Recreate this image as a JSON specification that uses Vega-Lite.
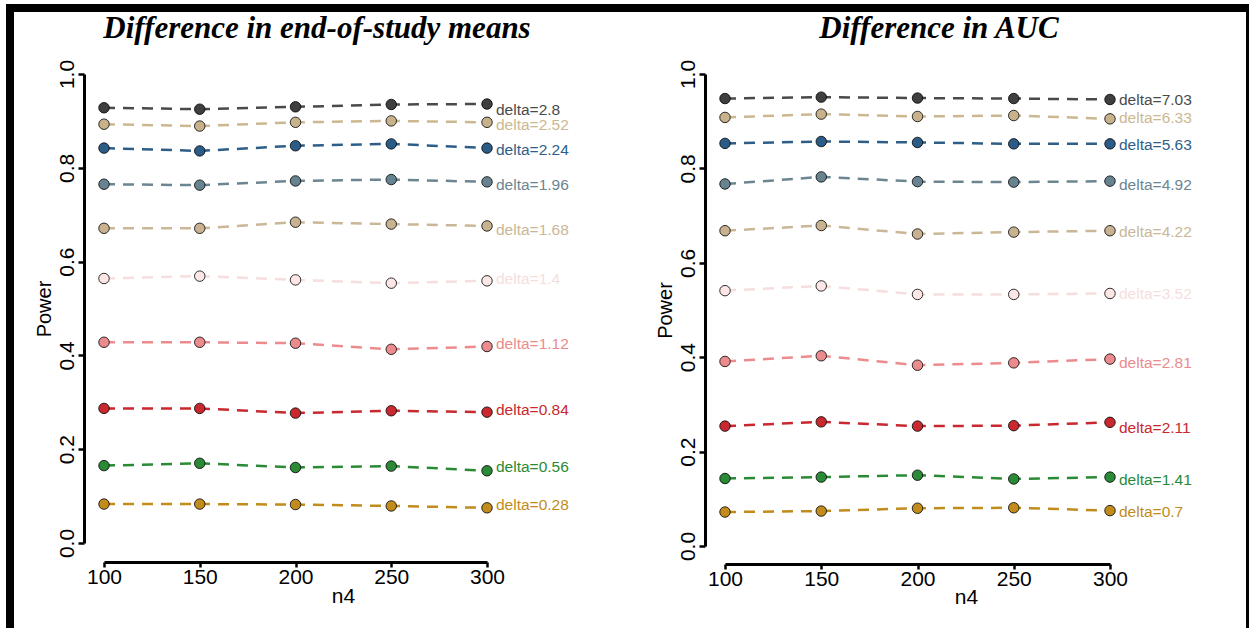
{
  "$schema": "https://vega.github.io/schema/vega-lite/v6.json",
  "background": "white",
  "padding": {"left": 6, "top": 4, "right": 0, "bottom": 0},
  "columns": 7,
  "spacing": 0,
  "bounds": "flush",
  "align": "each",
  "resolve": {"scale": {"color": "independent", "fill": "independent"}},
  "datasets": {
    "means": [
      {"delta": "delta=2.8", "n4": 100, "power": 0.928}, {"delta": "delta=2.8", "n4": 150, "power": 0.925}, {"delta": "delta=2.8", "n4": 200, "power": 0.930}, {"delta": "delta=2.8", "n4": 250, "power": 0.935}, {"delta": "delta=2.8", "n4": 300, "power": 0.936},
      {"delta": "delta=2.52", "n4": 100, "power": 0.893}, {"delta": "delta=2.52", "n4": 150, "power": 0.889}, {"delta": "delta=2.52", "n4": 200, "power": 0.897}, {"delta": "delta=2.52", "n4": 250, "power": 0.900}, {"delta": "delta=2.52", "n4": 300, "power": 0.897},
      {"delta": "delta=2.24", "n4": 100, "power": 0.842}, {"delta": "delta=2.24", "n4": 150, "power": 0.836}, {"delta": "delta=2.24", "n4": 200, "power": 0.847}, {"delta": "delta=2.24", "n4": 250, "power": 0.851}, {"delta": "delta=2.24", "n4": 300, "power": 0.842},
      {"delta": "delta=1.96", "n4": 100, "power": 0.765}, {"delta": "delta=1.96", "n4": 150, "power": 0.763}, {"delta": "delta=1.96", "n4": 200, "power": 0.772}, {"delta": "delta=1.96", "n4": 250, "power": 0.775}, {"delta": "delta=1.96", "n4": 300, "power": 0.770},
      {"delta": "delta=1.68", "n4": 100, "power": 0.671}, {"delta": "delta=1.68", "n4": 150, "power": 0.671}, {"delta": "delta=1.68", "n4": 200, "power": 0.684}, {"delta": "delta=1.68", "n4": 250, "power": 0.680}, {"delta": "delta=1.68", "n4": 300, "power": 0.676},
      {"delta": "delta=1.4", "n4": 100, "power": 0.564}, {"delta": "delta=1.4", "n4": 150, "power": 0.569}, {"delta": "delta=1.4", "n4": 200, "power": 0.561}, {"delta": "delta=1.4", "n4": 250, "power": 0.554}, {"delta": "delta=1.4", "n4": 300, "power": 0.559},
      {"delta": "delta=1.12", "n4": 100, "power": 0.428}, {"delta": "delta=1.12", "n4": 150, "power": 0.428}, {"delta": "delta=1.12", "n4": 200, "power": 0.426}, {"delta": "delta=1.12", "n4": 250, "power": 0.413}, {"delta": "delta=1.12", "n4": 300, "power": 0.419},
      {"delta": "delta=0.84", "n4": 100, "power": 0.287}, {"delta": "delta=0.84", "n4": 150, "power": 0.287}, {"delta": "delta=0.84", "n4": 200, "power": 0.277}, {"delta": "delta=0.84", "n4": 250, "power": 0.282}, {"delta": "delta=0.84", "n4": 300, "power": 0.279},
      {"delta": "delta=0.56", "n4": 100, "power": 0.165}, {"delta": "delta=0.56", "n4": 150, "power": 0.170}, {"delta": "delta=0.56", "n4": 200, "power": 0.161}, {"delta": "delta=0.56", "n4": 250, "power": 0.164}, {"delta": "delta=0.56", "n4": 300, "power": 0.154},
      {"delta": "delta=0.28", "n4": 100, "power": 0.083}, {"delta": "delta=0.28", "n4": 150, "power": 0.083}, {"delta": "delta=0.28", "n4": 200, "power": 0.082}, {"delta": "delta=0.28", "n4": 250, "power": 0.079}, {"delta": "delta=0.28", "n4": 300, "power": 0.075}
    ],
    "meansLabels": [
      {"delta": "delta=2.8", "n4": 300, "ly": 0.923},
      {"delta": "delta=2.52", "n4": 300, "ly": 0.891},
      {"delta": "delta=2.24", "n4": 300, "ly": 0.839},
      {"delta": "delta=1.96", "n4": 300, "ly": 0.763},
      {"delta": "delta=1.68", "n4": 300, "ly": 0.667},
      {"delta": "delta=1.4", "n4": 300, "ly": 0.562},
      {"delta": "delta=1.12", "n4": 300, "ly": 0.424},
      {"delta": "delta=0.84", "n4": 300, "ly": 0.284},
      {"delta": "delta=0.56", "n4": 300, "ly": 0.161},
      {"delta": "delta=0.28", "n4": 300, "ly": 0.080}
    ],
    "auc": [
      {"delta": "delta=7.03", "n4": 100, "power": 0.948}, {"delta": "delta=7.03", "n4": 150, "power": 0.951}, {"delta": "delta=7.03", "n4": 200, "power": 0.949}, {"delta": "delta=7.03", "n4": 250, "power": 0.948}, {"delta": "delta=7.03", "n4": 300, "power": 0.946},
      {"delta": "delta=6.33", "n4": 100, "power": 0.908}, {"delta": "delta=6.33", "n4": 150, "power": 0.915}, {"delta": "delta=6.33", "n4": 200, "power": 0.910}, {"delta": "delta=6.33", "n4": 250, "power": 0.912}, {"delta": "delta=6.33", "n4": 300, "power": 0.905},
      {"delta": "delta=5.63", "n4": 100, "power": 0.853}, {"delta": "delta=5.63", "n4": 150, "power": 0.857}, {"delta": "delta=5.63", "n4": 200, "power": 0.855}, {"delta": "delta=5.63", "n4": 250, "power": 0.852}, {"delta": "delta=5.63", "n4": 300, "power": 0.852},
      {"delta": "delta=4.92", "n4": 100, "power": 0.767}, {"delta": "delta=4.92", "n4": 150, "power": 0.782}, {"delta": "delta=4.92", "n4": 200, "power": 0.772}, {"delta": "delta=4.92", "n4": 250, "power": 0.771}, {"delta": "delta=4.92", "n4": 300, "power": 0.773},
      {"delta": "delta=4.22", "n4": 100, "power": 0.668}, {"delta": "delta=4.22", "n4": 150, "power": 0.679}, {"delta": "delta=4.22", "n4": 200, "power": 0.661}, {"delta": "delta=4.22", "n4": 250, "power": 0.665}, {"delta": "delta=4.22", "n4": 300, "power": 0.668},
      {"delta": "delta=3.52", "n4": 100, "power": 0.541}, {"delta": "delta=3.52", "n4": 150, "power": 0.551}, {"delta": "delta=3.52", "n4": 200, "power": 0.533}, {"delta": "delta=3.52", "n4": 250, "power": 0.533}, {"delta": "delta=3.52", "n4": 300, "power": 0.535},
      {"delta": "delta=2.81", "n4": 100, "power": 0.391}, {"delta": "delta=2.81", "n4": 150, "power": 0.403}, {"delta": "delta=2.81", "n4": 200, "power": 0.383}, {"delta": "delta=2.81", "n4": 250, "power": 0.388}, {"delta": "delta=2.81", "n4": 300, "power": 0.396},
      {"delta": "delta=2.11", "n4": 100, "power": 0.254}, {"delta": "delta=2.11", "n4": 150, "power": 0.263}, {"delta": "delta=2.11", "n4": 200, "power": 0.254}, {"delta": "delta=2.11", "n4": 250, "power": 0.255}, {"delta": "delta=2.11", "n4": 300, "power": 0.262},
      {"delta": "delta=1.41", "n4": 100, "power": 0.143}, {"delta": "delta=1.41", "n4": 150, "power": 0.146}, {"delta": "delta=1.41", "n4": 200, "power": 0.150}, {"delta": "delta=1.41", "n4": 250, "power": 0.142}, {"delta": "delta=1.41", "n4": 300, "power": 0.146},
      {"delta": "delta=0.7", "n4": 100, "power": 0.072}, {"delta": "delta=0.7", "n4": 150, "power": 0.074}, {"delta": "delta=0.7", "n4": 200, "power": 0.080}, {"delta": "delta=0.7", "n4": 250, "power": 0.081}, {"delta": "delta=0.7", "n4": 300, "power": 0.075}
    ],
    "aucLabels": [
      {"delta": "delta=7.03", "n4": 300, "ly": 0.945},
      {"delta": "delta=6.33", "n4": 300, "ly": 0.906},
      {"delta": "delta=5.63", "n4": 300, "ly": 0.850},
      {"delta": "delta=4.92", "n4": 300, "ly": 0.765},
      {"delta": "delta=4.22", "n4": 300, "ly": 0.665},
      {"delta": "delta=3.52", "n4": 300, "ly": 0.534},
      {"delta": "delta=2.81", "n4": 300, "ly": 0.387},
      {"delta": "delta=2.11", "n4": 300, "ly": 0.251},
      {"delta": "delta=1.41", "n4": 300, "ly": 0.140},
      {"delta": "delta=0.7", "n4": 300, "ly": 0.071}
    ]
  },
  "concat": [
    {"width": 8, "height": 8, "data": {"values": []}, "mark": "point", "encoding": {}, "view": {"fill": "black", "stroke": null}},
    {"width": 90, "height": 8, "data": {"values": []}, "mark": "point", "encoding": {}, "view": {"fill": "black", "stroke": null}},
    {"width": 383, "height": 8, "data": {"values": []}, "mark": "point", "encoding": {}, "view": {"fill": "black", "stroke": null}},
    {"width": 238, "height": 8, "data": {"values": []}, "mark": "point", "encoding": {}, "view": {"fill": "black", "stroke": null}},
    {"width": 385, "height": 8, "data": {"values": []}, "mark": "point", "encoding": {}, "view": {"fill": "black", "stroke": null}},
    {"width": 136, "height": 8, "data": {"values": []}, "mark": "point", "encoding": {}, "view": {"fill": "black", "stroke": null}},
    {"width": 10, "height": 8, "data": {"values": []}, "mark": "point", "encoding": {}, "view": {"fill": "black", "stroke": null}},

    {"width": 8, "height": 620, "data": {"values": []}, "mark": "point", "encoding": {}, "view": {"fill": "black", "stroke": null}},
    {"width": 90, "height": 1, "data": {"values": []}, "mark": "point", "encoding": {}},
    {
      "width": 383,
      "height": 531,
      "title": {"text": "Difference in end-of-study means", "font": "Liberation Serif", "fontSize": 31, "fontStyle": "italic", "fontWeight": "bold", "color": "black", "anchor": "middle", "frame": "group", "baseline": "alphabetic", "offset": 0, "dx": 21.5, "dy": 57},
      "data": {"name": "means"},
      "layer": [
        {
          "mark": {"type": "line", "strokeDash": [11, 8], "strokeWidth": 2.5},
          "encoding": {
            "x": {"field": "n4", "type": "quantitative", "scale": {"domain": [100, 300], "nice": false, "zero": false},
              "axis": {"title": "n4", "offset": 19, "values": [100, 150, 200, 250, 300], "labelFontSize": 21, "titleFontSize": 21, "titleX": 239, "titleY": 40, "titleBaseline": "alphabetic", "titleAlign": "center", "domainWidth": 3, "tickWidth": 2.5, "tickSize": 5, "labelPadding": -1, "labelFlush": false, "labelOverlap": false}},
            "y": {"field": "power", "type": "quantitative", "scale": {"domain": [0, 1], "range": [531, 62], "nice": false, "zero": false},
              "axis": {"title": "Power", "offset": 20, "values": [0, 0.2, 0.4, 0.6, 0.8, 1], "format": ".1f", "labelAngle": 270, "labelAlign": "center", "labelBaseline": "alphabetic", "labelFontSize": 21, "labelPadding": 5, "tickSize": 6, "tickWidth": 2.5, "domainWidth": 3, "titleFontSize": 20, "titleX": -34, "titleY": 296.5, "titleAngle": 270, "titleAlign": "center", "titleBaseline": "alphabetic", "labelFlush": false, "labelOverlap": false}},
            "color": {"field": "delta", "type": "nominal", "legend": null,
              "scale": {"domain": ["delta=2.8", "delta=2.52", "delta=2.24", "delta=1.96", "delta=1.68", "delta=1.4", "delta=1.12", "delta=0.84", "delta=0.56", "delta=0.28"],
                "range": ["#4a4a4a", "#cbb890", "#2e5e88", "#6b8591", "#c9b797", "#f6dede", "#ec8b8d", "#c8282e", "#2b8a35", "#c18c1c"]}}
          }
        },
        {
          "mark": {"type": "point", "shape": "circle", "size": 110, "stroke": "black", "strokeWidth": 0.8, "opacity": 1},
          "encoding": {
            "x": {"field": "n4", "type": "quantitative"},
            "y": {"field": "power", "type": "quantitative"},
            "fill": {"field": "delta", "type": "nominal", "legend": null,
              "scale": {"domain": ["delta=2.8", "delta=2.52", "delta=2.24", "delta=1.96", "delta=1.68", "delta=1.4", "delta=1.12", "delta=0.84", "delta=0.56", "delta=0.28"],
                "range": ["#3f3f3f", "#c8b28c", "#2b5c88", "#67838f", "#c8b28f", "#fce6e6", "#ec8b8d", "#c8282e", "#2b8a35", "#c18c1c"]}}
          }
        },
        {
          "data": {"name": "meansLabels"},
          "mark": {"type": "text", "align": "left", "baseline": "middle", "dx": 9, "font": "Liberation Sans", "fontSize": 15.5},
          "encoding": {
            "x": {"field": "n4", "type": "quantitative"},
            "y": {"field": "ly", "type": "quantitative"},
            "text": {"field": "delta"},
            "color": {"field": "delta", "type": "nominal", "legend": null}
          }
        }
      ]
    },
    {"width": 238, "height": 1, "data": {"values": []}, "mark": "point", "encoding": {}},
    {
      "width": 385,
      "height": 534,
      "title": {"text": "Difference in AUC", "font": "Liberation Serif", "fontSize": 31, "fontStyle": "italic", "fontWeight": "bold", "color": "black", "anchor": "middle", "frame": "group", "baseline": "alphabetic", "offset": 0, "dx": 21.5, "dy": 57},
      "data": {"name": "auc"},
      "layer": [
        {
          "mark": {"type": "line", "strokeDash": [11, 8], "strokeWidth": 2.5},
          "encoding": {
            "x": {"field": "n4", "type": "quantitative", "scale": {"domain": [100, 300], "nice": false, "zero": false},
              "axis": {"title": "n4", "offset": 18, "values": [100, 150, 200, 250, 300], "labelFontSize": 21, "titleFontSize": 21, "titleX": 241, "titleY": 39, "titleBaseline": "alphabetic", "titleAlign": "center", "domainWidth": 3, "tickWidth": 2.5, "tickSize": 5, "labelPadding": -1, "labelFlush": false, "labelOverlap": false}},
            "y": {"field": "power", "type": "quantitative", "scale": {"domain": [0, 1], "range": [534, 62], "nice": false, "zero": false},
              "axis": {"title": "Power", "offset": 20, "values": [0, 0.2, 0.4, 0.6, 0.8, 1], "format": ".1f", "labelAngle": 270, "labelAlign": "center", "labelBaseline": "alphabetic", "labelFontSize": 21, "labelPadding": 5, "tickSize": 6, "tickWidth": 2.5, "domainWidth": 3, "titleFontSize": 20, "titleX": -34, "titleY": 298, "titleAngle": 270, "titleAlign": "center", "titleBaseline": "alphabetic", "labelFlush": false, "labelOverlap": false}},
            "color": {"field": "delta", "type": "nominal", "legend": null,
              "scale": {"domain": ["delta=7.03", "delta=6.33", "delta=5.63", "delta=4.92", "delta=4.22", "delta=3.52", "delta=2.81", "delta=2.11", "delta=1.41", "delta=0.7"],
                "range": ["#4a4a4a", "#cbb890", "#2e5e88", "#6b8591", "#c9b797", "#f6dede", "#ec8b8d", "#c8282e", "#2b8a35", "#c18c1c"]}}
          }
        },
        {
          "mark": {"type": "point", "shape": "circle", "size": 110, "stroke": "black", "strokeWidth": 0.8, "opacity": 1},
          "encoding": {
            "x": {"field": "n4", "type": "quantitative"},
            "y": {"field": "power", "type": "quantitative"},
            "fill": {"field": "delta", "type": "nominal", "legend": null,
              "scale": {"domain": ["delta=7.03", "delta=6.33", "delta=5.63", "delta=4.92", "delta=4.22", "delta=3.52", "delta=2.81", "delta=2.11", "delta=1.41", "delta=0.7"],
                "range": ["#3f3f3f", "#c8b28c", "#2b5c88", "#67838f", "#c8b28f", "#fce6e6", "#ec8b8d", "#c8282e", "#2b8a35", "#c18c1c"]}}
          }
        },
        {
          "data": {"name": "aucLabels"},
          "mark": {"type": "text", "align": "left", "baseline": "middle", "dx": 9, "font": "Liberation Sans", "fontSize": 15.5},
          "encoding": {
            "x": {"field": "n4", "type": "quantitative"},
            "y": {"field": "ly", "type": "quantitative"},
            "text": {"field": "delta"},
            "color": {"field": "delta", "type": "nominal", "legend": null}
          }
        }
      ]
    },
    {"width": 136, "height": 1, "data": {"values": []}, "mark": "point", "encoding": {}},
    {"width": 10, "height": 620, "data": {"values": []}, "mark": "point", "encoding": {}, "view": {"fill": "black", "stroke": null}}
  ],
  "config": {
    "view": {"stroke": null},
    "axis": {"grid": false, "domainColor": "black", "tickColor": "black", "labelColor": "black", "titleColor": "black", "labelFont": "Liberation Sans", "titleFont": "Liberation Sans", "titleFontWeight": "normal"}
  }
}
